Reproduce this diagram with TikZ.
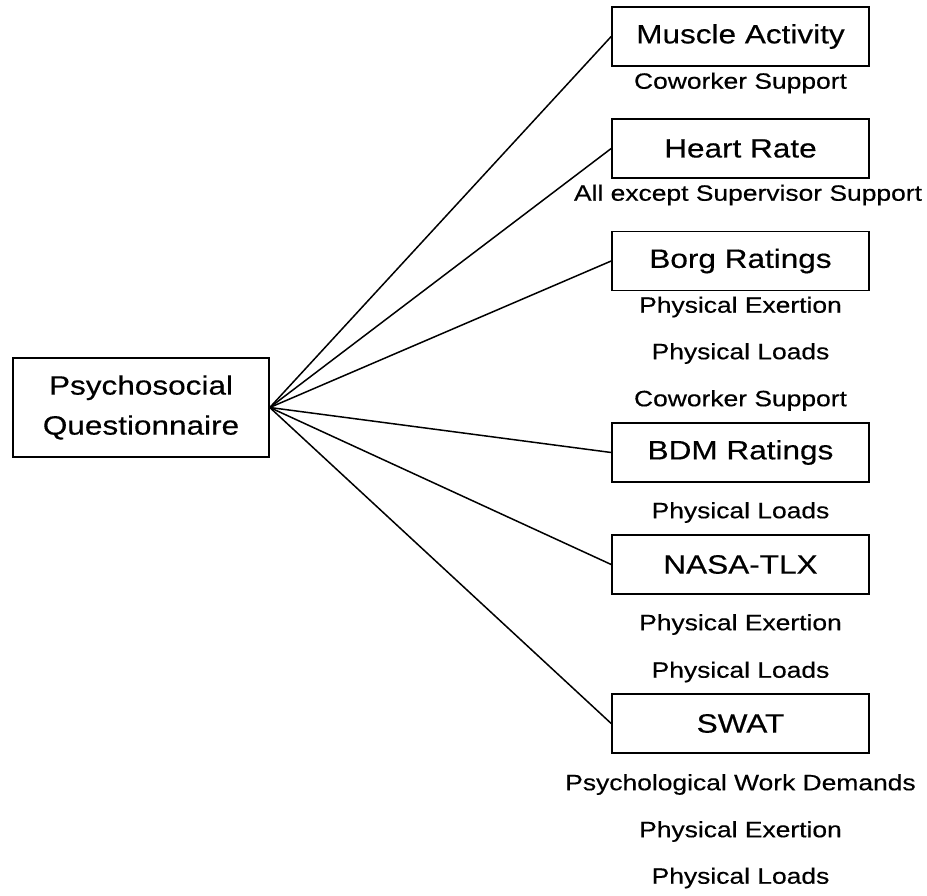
\documentclass[tikz,border=0pt]{standalone}
\usepackage{fontspec}
\setmainfont{Liberation Sans}[FakeStretch=1.19,FakeBold=0.4]
\begin{document}
\begin{tikzpicture}[x=1pt,y=-1pt,
  box/.style={draw,line width=1.6pt,minimum width=257pt,minimum height=59pt,inner sep=0pt,font=\fontsize{26.5}{40}\selectfont},
  lbl/.style={inner sep=0pt,font=\fontsize{22.2}{26}\selectfont},
  link/.style={line width=1.5pt}]
\useasboundingbox (0,0) rectangle (927,896);
\node[box,minimum width=256pt,minimum height=99pt,align=center] (pq) at (141,407.5) {Psychosocial\\Questionnaire};
\node[box] (ma) at (740.5,36.5) {Muscle Activity};
\node[box] (hr) at (740.5,148.5) {Heart Rate};
\node[box] (borg) at (740.5,261) {Borg Ratings};
\node[box] (bdm) at (740.5,452.5) {BDM Ratings};
\node[box] (nasa) at (740.5,564.5) {NASA-TLX};
\node[box] (swat) at (740.5,723.5) {SWAT};
\node[lbl] (l1) at (740.5,83) {Coworker Support};
\node[lbl] (l2) at (748,195) {All except Supervisor Support};
\node[lbl] (l3) at (740.5,307) {Physical Exertion};
\node[lbl] (l4) at (740.5,353.5) {Physical Loads};
\node[lbl] (l5) at (740.5,400.5) {Coworker Support};
\node[lbl] (l6) at (740.5,512.5) {Physical Loads};
\node[lbl] (l7) at (740.5,624.5) {Physical Exertion};
\node[lbl] (l8) at (740.5,672) {Physical Loads};
\node[lbl] (l9) at (740.5,784.5) {Psychological Work Demands};
\node[lbl] (l10) at (740.5,831.5) {Physical Exertion};
\node[lbl] (l11) at (740.5,878) {Physical Loads};
\foreach \t in {ma,hr,borg,bdm,nasa,swat}
  \draw[link] (pq.east) -- (\t.west);
\end{tikzpicture}
\end{document}
